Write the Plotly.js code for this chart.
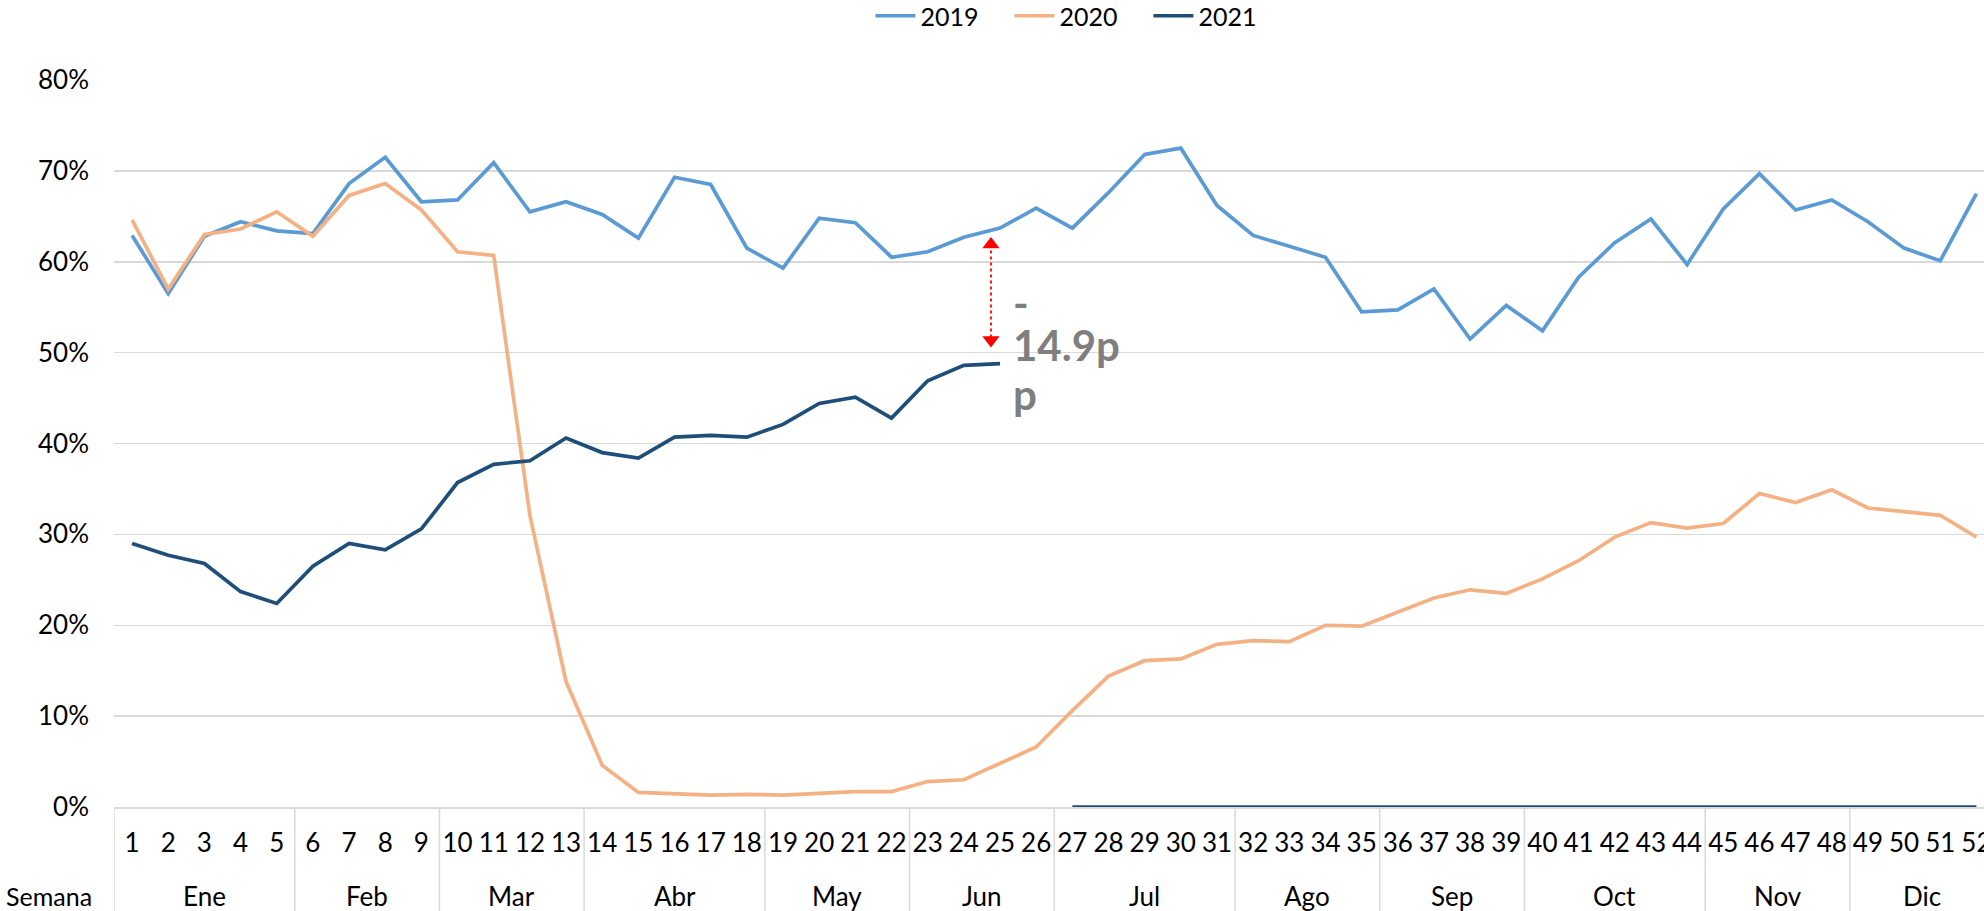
<!DOCTYPE html>
<html>
<head>
<meta charset="utf-8">
<script src="https://cdn.plot.ly/plotly-3.0.1.min.js"></script>
<style>html,body{margin:0;padding:0;background:#fff;overflow:hidden;}#chart{width:1984px;height:911px;}</style>
</head>
<body>
<div id="chart"></div>
<script>
// ---- data ----
const weeks = [1,2,3,4,5,6,7,8,9,10,11,12,13,14,15,16,17,18,19,20,21,22,23,24,25,26,27,28,29,30,31,32,33,34,35,36,37,38,39,40,41,42,43,44,45,46,47,48,49,50,51,52];
const weekLabels = weeks.map(String);
const values2019 = [62.9,56.5,62.8,64.4,63.4,63.1,68.6,71.5,66.6,66.8,70.9,65.5,66.6,65.2,62.6,69.3,68.5,61.5,59.3,64.8,64.3,60.5,61.1,62.7,63.7,65.9,63.7,67.6,71.8,72.5,66.2,62.9,61.7,60.5,54.5,54.7,57.0,51.5,55.2,52.4,58.3,62.1,64.7,59.7,65.8,69.7,65.7,66.8,64.4,61.5,60.1,67.5];
const values2020 = [64.6,57.0,63.0,63.6,65.5,62.8,67.3,68.6,65.7,61.1,60.7,32.1,13.8,4.6,1.6,1.4,1.3,1.4,1.3,1.5,1.7,1.7,2.8,3.0,4.8,6.6,10.6,14.4,16.1,16.3,17.9,18.3,18.2,20.0,19.9,21.4,23.0,23.9,23.5,25.1,27.1,29.7,31.3,30.7,31.2,34.5,33.5,34.9,32.9,32.5,32.1,29.7];
const values2021 = [29.0,27.7,26.8,23.7,22.4,26.5,29.0,28.3,30.6,35.7,37.7,38.1,40.6,39.0,38.4,40.7,40.9,40.7,42.1,44.4,45.1,42.8,46.9,48.6,48.8,null,0,0,0,0,0,0,0,0,0,0,0,0,0,0,0,0,0,0,0,0,0,0,0,0,0,0];
const seriesNames = ['2019','2020','2021'];
const months = ['Ene','Feb','Mar','Abr','May','Jun','Jul','Ago','Sep','Oct','Nov','Dic'];
const monthStartWeek = [1,6,10,14,19,23,27,32,36,40,45,49];
const yTicks = [0,10,20,30,40,50,60,70,80];
const gapLabelLines = ['-', '14.9p', 'p'];
const gapLabelY = [55.5, 50.8, 45.4];
const gapArrow = {x: 24.75, yTop: 61.9, yBottom: 51.4};

// ---- build ----
const FONT = 'Lato, "Liberation Sans", Arial, sans-serif';
const FS = 26;
const colors = ['#5B9BD5', '#F4B183', '#1F4E79'];
const seriesVals = [values2019, values2020, values2021];

const traces = seriesNames.map((n, i) => ({
  type: 'scatter', mode: 'lines', name: n, x: weeks, y: seriesVals[i],
  line: {color: colors[i], width: 3.7}, connectgaps: false, hoverinfo: 'x+y+name'
}));

traces.push({
  type: 'scatter', mode: 'lines+markers', showlegend: false, hoverinfo: 'skip',
  x: [gapArrow.x, gapArrow.x], y: [gapArrow.yTop, gapArrow.yBottom],
  line: {color: '#FF0000', width: 1.8, dash: 'dot'},
  marker: {color: '#FF0000', size: 15, symbol: ['triangle-up', 'triangle-down']}
});

const monthEnd = monthStartWeek.map((s, i) => i < monthStartWeek.length - 1 ? monthStartWeek[i + 1] - 1 : weeks[weeks.length - 1]);

const annotations = months.map((m, i) => ({
  text: m, xref: 'x', yref: 'paper', x: (monthStartWeek[i] + monthEnd[i]) / 2, y: 0,
  yanchor: 'middle', xanchor: 'center', yshift: -89, showarrow: false,
  font: {family: FONT, size: FS, color: '#000'}
}));
annotations.push({
  text: 'Semana', xref: 'paper', yref: 'paper', x: 0, y: 0, xanchor: 'left', yanchor: 'middle',
  xshift: -110, yshift: -89, showarrow: false, font: {family: FONT, size: FS - 1, color: '#000'}
});
gapLabelLines.forEach((t, i) => annotations.push({
  text: t, xref: 'x', yref: 'y', x: 25.3, y: gapLabelY[i], xanchor: 'left', yanchor: 'middle',
  align: 'left', showarrow: false, font: {family: FONT, size: 42, color: '#7F7F7F', weight: 'bold'}
}));

const shapes = monthStartWeek.map(s => ({
  type: 'line', xref: 'x', yref: 'paper', x0: s - 0.5, x1: s - 0.5, y0: 0, y1: -0.2,
  line: {color: '#D9D9D9', width: 1.5}
}));

const layout = {
  width: 1984, height: 911,
  margin: {l: 113.5, r: 0, t: 80, b: 103.7, autoexpand: false},
  paper_bgcolor: '#fff', plot_bgcolor: '#fff',
  font: {family: FONT, size: FS, color: '#000'},
  showlegend: true,
  legend: {orientation: 'h', x: 0.516, xanchor: 'center', y: 1.088, yanchor: 'middle',
           font: {family: FONT, size: 25, color: '#000'}, itemwidth: 40, entrywidth: 84,
           traceorder: 'normal'},
  xaxis: {range: [0.5, 52.21], tickmode: 'array', tickvals: weeks, ticktext: weekLabels,
          showgrid: false, zeroline: false, showline: true, linecolor: '#D9D9D9', linewidth: 1.5,
          ticks: '', ticklabelstandoff: 12, ticklabeloverflow: 'allow', automargin: false,
          tickfont: {family: FONT, size: FS, color: '#000'}, fixedrange: true},
  yaxis: {range: [0, 80], tickmode: 'array', tickvals: yTicks, ticktext: yTicks.map(v => v + '%'),
          showgrid: true, gridcolor: '#D9D9D9', gridwidth: 1.5, zeroline: false, showline: false,
          ticks: '', ticklabelstandoff: 24, automargin: false,
          tickfont: {family: FONT, size: FS, color: '#000'}, fixedrange: true},
  annotations: annotations,
  shapes: shapes
};

Plotly.newPlot('chart', traces, layout, {displayModeBar: false, staticPlot: true});
</script>
</body>
</html>
